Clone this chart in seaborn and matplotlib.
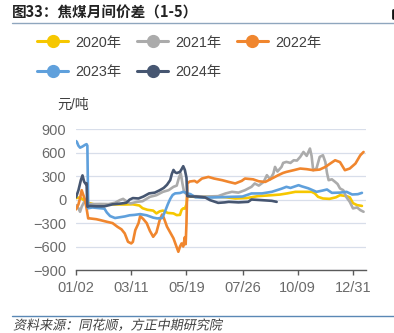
import matplotlib
matplotlib.use("Agg")
import matplotlib.pyplot as plt
import pandas as pd
import seaborn as sns
from matplotlib.lines import Line2D
from matplotlib.patheffects import AbstractPathEffect
from matplotlib.transforms import Affine2D

# Position along the seasonal (01/02 .. 12/31) axis and the 1-5 spread, 元/吨
pos_2020 = [0, 5, 10, 15, 22, 40, 60, 70, 78, 82, 88, 95, 99, 103, 107, 113, 120, 124, 128,
            130, 132, 134, 136, 137, 145, 160, 175, 185, 196, 210, 224, 241, 251, 260, 270,
            280, 290, 294, 298, 304, 312, 320, 325, 333, 337, 341, 346, 352]
spread_2020 = [20, 30, -10, -40, -60, -60, -62, -60, -75, -110, -130, -140, -176, -150, -140,
               -170, -176, -198, -195, -130, -112, -115, -60, 45, 36, 36, 36, 30, 15, 20, 45,
               57, 65, 80, 100, 100, 100, 80, 36, 15, 10, 30, 57, 45, 30, -45, -70, -80]

pos_2021 = [0, 3, 5, 7, 10, 13, 17, 30, 40, 48, 54, 58, 62, 67, 75, 82, 91, 99, 107, 114,
            120, 124, 127, 129, 131, 133, 137, 145, 160, 175, 184, 192, 200, 208, 216, 220,
            225, 231, 235, 239, 243, 245, 248, 253, 255, 259, 264, 268, 272, 276, 280, 284,
            288, 290, 292, 296, 300, 304, 307, 309, 311, 315, 319, 322, 325, 329, 333, 337,
            341, 346, 350, 354]
spread_2021 = [-70, -110, -155, -90, -30, -50, -57, -55, -57, -40, -6, 10, -20, -49, -28, -20,
               36, 57, 100, 121, 164, 180, 291, 335, 207, 100, 60, 45, 40, 45, 79, 100, 90,
               121, 164, 207, 180, 227, 313, 260, 335, 419, 360, 419, 470, 483, 470, 504,
               500, 547, 610, 560, 654, 560, 377, 398, 547, 568, 480, 340, 249, 260, 227,
               200, 143, 121, 30, -28, -112, -100, -134, -155]

pos_2022 = [0, 3, 5, 7, 9, 11, 13, 15, 17, 25, 30, 38, 45, 51, 56, 60, 64, 68, 70, 73, 77,
            79, 83, 87, 91, 95, 99, 103, 106, 108, 112, 116, 120, 124, 126, 128, 130, 132,
            133, 134, 135, 136, 137, 140, 146, 149, 155, 163, 170, 180, 188, 196, 204, 208,
            218, 225, 233, 241, 249, 255, 259, 268, 276, 284, 292, 300, 307, 313, 319, 325,
            331, 337, 344, 350, 354]
spread_2022 = [-125, -60, 20, 121, 60, 0, -112, -240, -240, -250, -262, -283, -300, -347,
               -380, -432, -539, -560, -540, -390, -300, -210, -250, -300, -400, -475, -420,
               -262, -190, -230, -345, -420, -495, -610, -667, -600, -560, -600, -540, -480,
               -570, -300, 207, 232, 240, 220, 270, 291, 270, 249, 227, 207, 240, 270, 260,
               235, 227, 270, 313, 342, 355, 377, 398, 390, 377, 385, 419, 462, 504, 480,
               377, 398, 462, 568, 610]

pos_2023 = [0, 1, 3, 5, 8, 11, 13, 14, 15, 20, 30, 35, 38, 42, 48, 54, 60, 66, 72, 79, 87,
            95, 100, 106, 108, 110, 113, 116, 119, 122, 128, 132, 135, 137, 141, 147, 160,
            175, 190, 205, 216, 229, 241, 253, 259, 264, 274, 278, 286, 296, 303, 309, 315,
            325, 333, 340, 347, 352]
spread_2023 = [750, 740, 690, 665, 680, 700, 710, 690, -110, -100, -110, -115, -165, -210,
               -235, -225, -215, -200, -195, -185, -200, -230, -240, -235, -190, -140, -60,
               10, 60, 80, 85, 100, 90, 80, 70, 30, 25, 30, 36, 40, 79, 80, 100, 140, 164,
               150, 185, 170, 145, 100, 115, 130, 87, 90, 100, 66, 70, 87]

pos_2024 = [0, 3, 6, 8, 10, 12, 13, 14, 17, 25, 35, 45, 55, 62, 66, 70, 77, 83, 90, 97, 103,
            108, 112, 116, 118, 120, 122, 124, 128, 130, 132, 134, 136, 137, 141, 148, 159,
            165, 175, 183, 188, 200, 212, 216, 228, 241, 247]
spread_2024 = [30, 120, 250, 310, 230, 200, 210, -90, -80, -85, -85, -60, -50, -40, 0, 20,
               15, 40, 80, 90, 120, 150, 190, 250, 330, 380, 350, 340, 355, 390, 428, 380,
               280, 45, 40, 40, 28, -6, -41, -35, -28, -35, -28, 2, -6, -15, -28]

years = ["2020年", "2021年", "2022年", "2023年", "2024年"]
colors = ["#F6C700", "#ABABAB", "#F0862E", "#5FA0DC", "#465671"]
positions = [pos_2020, pos_2021, pos_2022, pos_2023, pos_2024]
spreads = [spread_2020, spread_2021, spread_2022, spread_2023, spread_2024]

x_tick_pos = [0, 68, 136, 205, 273, 341]
x_tick_labels = ["01/02", "03/11", "05/19", "07/26", "10/09", "12/31"]
y_ticks = [-900, -600, -300, 0, 300, 600, 900]

title_text = "图33：焦煤月间价差（1-5）"
unit_text = "元/吨"
source_text = "资料来源：同花顺，方正中期研究院"


class Oblique(AbstractPathEffect):
    """Shear glyph outlines to get a slanted look for CJK text."""

    def __init__(self, shear=0.2):
        super().__init__()
        self._shear = shear

    def draw_path(self, renderer, gc, tpath, affine, rgbFace=None):
        skew = Affine2D().skew(self._shear, 0)
        renderer.draw_path(gc, tpath, skew + affine, rgbFace)


sns.set_theme(style="white")
plt.rcParams["font.family"] = ["Liberation Sans", "Noto Sans CJK SC"]
plt.rcParams["axes.unicode_minus"] = True

df = pd.concat(
    [pd.DataFrame({"pos": p, "spread": s, "year": y})
     for p, s, y in zip(positions, spreads, years)],
    ignore_index=True,
)

W, H = 394, 333
fig = plt.figure(figsize=(W / 100, H / 100), dpi=100)
ax = fig.add_axes([76 / W, 63 / H, 290 / W, 140.7 / H])

sns.lineplot(data=df, x="pos", y="spread", hue="year", hue_order=years,
             palette=dict(zip(years, colors)), linewidth=1.9, estimator=None,
             legend=False, ax=ax)

ax.set_xlim(0, 357)
ax.set_ylim(-900, 900)
ax.set_yticks(y_ticks)
ax.set_xticks(x_tick_pos)
ax.set_xticklabels(x_tick_labels)
ax.set_xlabel("")
ax.set_ylabel("")
ax.yaxis.grid(True, color="#D8DEEA", linewidth=0.9)
ax.set_axisbelow(True)
for side in ("left", "right", "top"):
    ax.spines[side].set_visible(False)
ax.spines["bottom"].set_color("#5A5A5A")
ax.spines["bottom"].set_linewidth(1.0)
ax.tick_params(axis="y", length=0, pad=7, labelsize=10.5, labelcolor="#6A6A6A")
ax.tick_params(axis="x", direction="out", length=3.8, width=1.0, color="#5A5A5A",
               pad=4, labelsize=10.5, labelcolor="#6A6A6A", bottom=True)

# Unit label above the value axis
fig.text(57 / W, 1 - 105 / H, unit_text, fontsize=10, color="#404040",
         ha="left", va="center")

# Legend: three entries in the first row, two in the second
handles = [Line2D([], [], color=c, lw=2.2, marker="o", markersize=8.5) for c in colors]
order = [0, 3, 1, 4, 2]
leg = fig.legend([handles[i] for i in order], [years[i] for i in order], ncol=3,
                 loc="upper left", bbox_to_anchor=(37 / W, 1 - 35.5 / H),
                 frameon=False, fontsize=10.3, handlelength=2.2, handletextpad=0.5,
                 columnspacing=1.05, labelspacing=1.05, borderpad=0, borderaxespad=0)
for t in leg.get_texts():
    t.set_color("#404040")

# Title and rules
fig.text(12 / W, 1 - 13 / H, title_text, fontsize=10.5, weight="bold",
         family=["Noto Sans CJK SC"], color="#222222", ha="left", va="center")
fig.add_artist(Line2D([12 / W, 1.0], [1 - 23.3 / H, 1 - 23.3 / H],
                      color="#8FA6BE", lw=1.0, transform=fig.transFigure))
fig.add_artist(Line2D([392.5 / W, 392.5 / W], [1 - 10 / H, 1 - 18 / H],
                      color="#111111", lw=2.0, transform=fig.transFigure))
fig.add_artist(Line2D([12 / W, 1.0], [1 - 316 / H, 1 - 316 / H],
                      color="#5A88B5", lw=1.0, transform=fig.transFigure))

fig.text(13 / W, 1 - 326 / H, source_text, fontsize=9.4, family=["Noto Sans CJK SC"],
         color="#404040", ha="left", va="center", path_effects=[Oblique(0.2)])

fig.savefig("out.png", dpi=100)
